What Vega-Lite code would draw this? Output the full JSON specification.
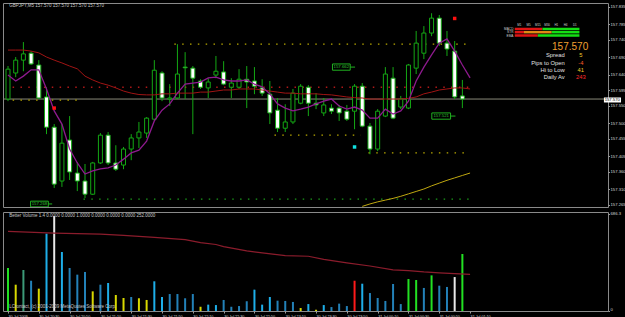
{
"$schema":"https://vega.github.io/schema/vega-lite/v6.json",
"background":"#000000",
"padding":{"left":2,"top":2,"right":0,"bottom":0},
"spacing":3,
"config":{
 "view":{"stroke":"#8a8a8a","strokeWidth":1},
 "axis":{"labelFont":"Liberation Sans","labelColor":"#d8d8d8","tickColor":"#9a9a9a","tickSize":1.5,"labelPadding":0.5,"domain":false,"grid":false,"labelOverlap":false,"labelFlush":false},
 "text":{"font":"Liberation Sans"}
},
"datasets":{
 "bars":[
{"t":"2009-07-30T20:10:00Z","o":157.570,"h":157.665,"l":157.564,"c":157.656,"v":304,"vc":"g"},
{"t":"2009-07-30T20:15:00Z","o":157.645,"h":157.691,"l":157.633,"c":157.682,"v":186,"vc":"y"},
{"t":"2009-07-30T20:20:00Z","o":157.682,"h":157.734,"l":157.650,"c":157.700,"v":290,"vc":"t"},
{"t":"2009-07-30T20:25:00Z","o":157.702,"h":157.708,"l":157.668,"c":157.671,"v":214,"vc":"n"},
{"t":"2009-07-30T20:30:00Z","o":157.668,"h":157.682,"l":157.570,"c":157.573,"v":158,"vc":"y"},
{"t":"2009-07-30T20:35:00Z","o":157.576,"h":157.604,"l":157.469,"c":157.489,"v":547,"vc":"c"},
{"t":"2009-07-30T20:40:00Z","o":157.489,"h":157.498,"l":157.314,"c":157.325,"v":672,"vc":"w"},
{"t":"2009-07-30T20:45:00Z","o":157.334,"h":157.498,"l":157.317,"c":157.443,"v":417,"vc":"c"},
{"t":"2009-07-30T20:50:00Z","o":157.452,"h":157.521,"l":157.337,"c":157.360,"v":304,"vc":"n"},
{"t":"2009-07-30T20:55:00Z","o":157.357,"h":157.389,"l":157.305,"c":157.334,"v":257,"vc":"n"},
{"t":"2009-07-30T21:00:00Z","o":157.334,"h":157.383,"l":157.285,"c":157.296,"v":276,"vc":"n"},
{"t":"2009-07-30T21:05:00Z","o":157.296,"h":157.389,"l":157.294,"c":157.386,"v":139,"vc":"y"},
{"t":"2009-07-30T21:10:00Z","o":157.386,"h":157.472,"l":157.383,"c":157.466,"v":186,"vc":"n"},
{"t":"2009-07-30T21:15:00Z","o":157.466,"h":157.475,"l":157.380,"c":157.386,"v":198,"vc":"c"},
{"t":"2009-07-30T21:20:00Z","o":157.386,"h":157.437,"l":157.363,"c":157.368,"v":113,"vc":"y"},
{"t":"2009-07-30T21:25:00Z","o":157.380,"h":157.432,"l":157.368,"c":157.426,"v":92,"vc":"y"},
{"t":"2009-07-30T21:30:00Z","o":157.426,"h":157.469,"l":157.394,"c":157.458,"v":99,"vc":"n"},
{"t":"2009-07-30T21:35:00Z","o":157.458,"h":157.504,"l":157.429,"c":157.475,"v":90,"vc":"y"},
{"t":"2009-07-30T21:40:00Z","o":157.472,"h":157.518,"l":157.458,"c":157.515,"v":78,"vc":"y"},
{"t":"2009-07-30T21:45:00Z","o":157.512,"h":157.682,"l":157.507,"c":157.653,"v":210,"vc":"c"},
{"t":"2009-07-30T21:50:00Z","o":157.645,"h":157.650,"l":157.564,"c":157.573,"v":99,"vc":"c"},
{"t":"2009-07-30T21:55:00Z","o":157.570,"h":157.613,"l":157.550,"c":157.573,"v":120,"vc":"n"},
{"t":"2009-07-30T22:00:00Z","o":157.573,"h":157.728,"l":157.570,"c":157.642,"v":120,"vc":"n"},
{"t":"2009-07-30T22:05:00Z","o":157.662,"h":157.705,"l":157.570,"c":157.660,"v":90,"vc":"n"},
{"t":"2009-07-30T22:10:00Z","o":157.659,"h":157.665,"l":157.469,"c":157.630,"v":120,"vc":"n"},
{"t":"2009-07-30T22:15:00Z","o":157.622,"h":157.627,"l":157.599,"c":157.604,"v":30,"vc":"y"},
{"t":"2009-07-30T22:20:00Z","o":157.602,"h":157.630,"l":157.573,"c":157.619,"v":45,"vc":"c"},
{"t":"2009-07-30T22:25:00Z","o":157.639,"h":157.694,"l":157.630,"c":157.650,"v":42,"vc":"c"},
{"t":"2009-07-30T22:30:00Z","o":157.648,"h":157.679,"l":157.610,"c":157.613,"v":78,"vc":"n"},
{"t":"2009-07-30T22:35:00Z","o":157.604,"h":157.630,"l":157.573,"c":157.616,"v":30,"vc":"n"},
{"t":"2009-07-30T22:40:00Z","o":157.604,"h":157.656,"l":157.599,"c":157.627,"v":35,"vc":"n"},
{"t":"2009-07-30T22:45:00Z","o":157.627,"h":157.665,"l":157.544,"c":157.619,"v":69,"vc":"n"},
{"t":"2009-07-30T22:50:00Z","o":157.622,"h":157.662,"l":157.584,"c":157.607,"v":151,"vc":"c"},
{"t":"2009-07-30T22:55:00Z","o":157.602,"h":157.627,"l":157.579,"c":157.587,"v":45,"vc":"c"},
{"t":"2009-07-30T23:00:00Z","o":157.584,"h":157.622,"l":157.498,"c":157.530,"v":99,"vc":"c"},
{"t":"2009-07-30T23:05:00Z","o":157.538,"h":157.573,"l":157.475,"c":157.486,"v":73,"vc":"n"},
{"t":"2009-07-30T23:10:00Z","o":157.486,"h":157.555,"l":157.475,"c":157.504,"v":71,"vc":"n"},
{"t":"2009-07-30T23:15:00Z","o":157.504,"h":157.599,"l":157.498,"c":157.587,"v":64,"vc":"n"},
{"t":"2009-07-30T23:20:00Z","o":157.558,"h":157.613,"l":157.555,"c":157.607,"v":21,"vc":"y"},
{"t":"2009-07-30T23:25:00Z","o":157.604,"h":157.610,"l":157.521,"c":157.558,"v":49,"vc":"c"},
{"t":"2009-07-30T23:30:00Z","o":157.558,"h":157.587,"l":157.541,"c":157.553,"v":9,"vc":"y"},
{"t":"2009-07-30T23:35:00Z","o":157.530,"h":157.573,"l":157.521,"c":157.553,"v":42,"vc":"c"},
{"t":"2009-07-30T23:40:00Z","o":157.544,"h":157.555,"l":157.527,"c":157.535,"v":28,"vc":"n"},
{"t":"2009-07-30T23:45:00Z","o":157.544,"h":157.553,"l":157.507,"c":157.530,"v":52,"vc":"n"},
{"t":"2009-07-30T23:50:00Z","o":157.535,"h":157.553,"l":157.507,"c":157.512,"v":35,"vc":"n"},
{"t":"2009-07-30T23:55:00Z","o":157.535,"h":157.613,"l":157.483,"c":157.607,"v":214,"vc":"r"},
{"t":"2009-07-31T00:00:00Z","o":157.607,"h":157.616,"l":157.489,"c":157.492,"v":193,"vc":"c"},
{"t":"2009-07-31T00:05:00Z","o":157.492,"h":157.501,"l":157.411,"c":157.426,"v":127,"vc":"n"},
{"t":"2009-07-31T00:10:00Z","o":157.426,"h":157.541,"l":157.420,"c":157.535,"v":92,"vc":"n"},
{"t":"2009-07-31T00:15:00Z","o":157.521,"h":157.662,"l":157.518,"c":157.642,"v":71,"vc":"n"},
{"t":"2009-07-31T00:20:00Z","o":157.630,"h":157.662,"l":157.512,"c":157.515,"v":191,"vc":"n"},
{"t":"2009-07-31T00:25:00Z","o":157.547,"h":157.579,"l":157.541,"c":157.570,"v":49,"vc":"n"},
{"t":"2009-07-31T00:30:00Z","o":157.544,"h":157.671,"l":157.541,"c":157.668,"v":226,"vc":"g"},
{"t":"2009-07-31T00:35:00Z","o":157.659,"h":157.766,"l":157.642,"c":157.731,"v":219,"vc":"g"},
{"t":"2009-07-31T00:40:00Z","o":157.702,"h":157.780,"l":157.685,"c":157.760,"v":163,"vc":"n"},
{"t":"2009-07-31T00:45:00Z","o":157.760,"h":157.817,"l":157.751,"c":157.803,"v":252,"vc":"g"},
{"t":"2009-07-31T00:50:00Z","o":157.803,"h":157.812,"l":157.723,"c":157.731,"v":179,"vc":"n"},
{"t":"2009-07-31T00:55:00Z","o":157.731,"h":157.766,"l":157.694,"c":157.714,"v":170,"vc":"n"},
{"t":"2009-07-31T01:00:00Z","o":157.708,"h":157.737,"l":157.570,"c":157.576,"v":240,"vc":"w"},
{"t":"2009-07-31T01:05:00Z","o":157.579,"h":157.625,"l":157.544,"c":157.570,"v":403,"vc":"g"}
 ],
 "ma":[
{"t":"2009-07-30T20:10:00Z","m1":157.639,"m2":157.711},
{"t":"2009-07-30T20:15:00Z","m1":157.622,"m2":157.711},
{"t":"2009-07-30T20:20:00Z","m1":157.636,"m2":157.711},
{"t":"2009-07-30T20:25:00Z","m1":157.654,"m2":157.708},
{"t":"2009-07-30T20:30:00Z","m1":157.654,"m2":157.703},
{"t":"2009-07-30T20:35:00Z","m1":157.599,"m2":157.691},
{"t":"2009-07-30T20:40:00Z","m1":157.536,"m2":157.682},
{"t":"2009-07-30T20:45:00Z","m1":157.498,"m2":157.674},
{"t":"2009-07-30T20:50:00Z","m1":157.426,"m2":157.665},
{"t":"2009-07-30T20:55:00Z","m1":157.386,"m2":157.657},
{"t":"2009-07-30T21:00:00Z","m1":157.354,"m2":157.636},
{"t":"2009-07-30T21:05:00Z","m1":157.363,"m2":157.625},
{"t":"2009-07-30T21:10:00Z","m1":157.369,"m2":157.616},
{"t":"2009-07-30T21:15:00Z","m1":157.372,"m2":157.610},
{"t":"2009-07-30T21:20:00Z","m1":157.380,"m2":157.602},
{"t":"2009-07-30T21:25:00Z","m1":157.397,"m2":157.593},
{"t":"2009-07-30T21:30:00Z","m1":157.415,"m2":157.587},
{"t":"2009-07-30T21:35:00Z","m1":157.423,"m2":157.583},
{"t":"2009-07-30T21:40:00Z","m1":157.449,"m2":157.582},
{"t":"2009-07-30T21:45:00Z","m1":157.507,"m2":157.582},
{"t":"2009-07-30T21:50:00Z","m1":157.538,"m2":157.585},
{"t":"2009-07-30T21:55:00Z","m1":157.556,"m2":157.585},
{"t":"2009-07-30T22:00:00Z","m1":157.587,"m2":157.587},
{"t":"2009-07-30T22:05:00Z","m1":157.613,"m2":157.587},
{"t":"2009-07-30T22:10:00Z","m1":157.616,"m2":157.587},
{"t":"2009-07-30T22:15:00Z","m1":157.619,"m2":157.590},
{"t":"2009-07-30T22:20:00Z","m1":157.631,"m2":157.590},
{"t":"2009-07-30T22:25:00Z","m1":157.633,"m2":157.593},
{"t":"2009-07-30T22:30:00Z","m1":157.625,"m2":157.596},
{"t":"2009-07-30T22:35:00Z","m1":157.622,"m2":157.596},
{"t":"2009-07-30T22:40:00Z","m1":157.622,"m2":157.599},
{"t":"2009-07-30T22:45:00Z","m1":157.625,"m2":157.599},
{"t":"2009-07-30T22:50:00Z","m1":157.613,"m2":157.599},
{"t":"2009-07-30T22:55:00Z","m1":157.605,"m2":157.596},
{"t":"2009-07-30T23:00:00Z","m1":157.585,"m2":157.593},
{"t":"2009-07-30T23:05:00Z","m1":157.556,"m2":157.590},
{"t":"2009-07-30T23:10:00Z","m1":157.544,"m2":157.587},
{"t":"2009-07-30T23:15:00Z","m1":157.536,"m2":157.587},
{"t":"2009-07-30T23:20:00Z","m1":157.541,"m2":157.585},
{"t":"2009-07-30T23:25:00Z","m1":157.547,"m2":157.585},
{"t":"2009-07-30T23:30:00Z","m1":157.556,"m2":157.585},
{"t":"2009-07-30T23:35:00Z","m1":157.564,"m2":157.583},
{"t":"2009-07-30T23:40:00Z","m1":157.570,"m2":157.582},
{"t":"2009-07-30T23:45:00Z","m1":157.550,"m2":157.579},
{"t":"2009-07-30T23:50:00Z","m1":157.541,"m2":157.576},
{"t":"2009-07-30T23:55:00Z","m1":157.547,"m2":157.574},
{"t":"2009-07-31T00:00:00Z","m1":157.538,"m2":157.573},
{"t":"2009-07-31T00:05:00Z","m1":157.515,"m2":157.570},
{"t":"2009-07-31T00:10:00Z","m1":157.515,"m2":157.570},
{"t":"2009-07-31T00:15:00Z","m1":157.541,"m2":157.570},
{"t":"2009-07-31T00:20:00Z","m1":157.527,"m2":157.570},
{"t":"2009-07-31T00:25:00Z","m1":157.536,"m2":157.570},
{"t":"2009-07-31T00:30:00Z","m1":157.564,"m2":157.572},
{"t":"2009-07-31T00:35:00Z","m1":157.622,"m2":157.576},
{"t":"2009-07-31T00:40:00Z","m1":157.662,"m2":157.585},
{"t":"2009-07-31T00:45:00Z","m1":157.697,"m2":157.590},
{"t":"2009-07-31T00:50:00Z","m1":157.731,"m2":157.596},
{"t":"2009-07-31T00:55:00Z","m1":157.743,"m2":157.599},
{"t":"2009-07-31T01:00:00Z","m1":157.708,"m2":157.602},
{"t":"2009-07-31T01:05:00Z","m1":157.668,"m2":157.602},
{"t":"2009-07-31T01:10:00Z","m1":157.631,"m2":157.599}
 ],
 "ma3":[
{"t":"2009-07-31T00:00:00Z","p":157.261},
{"t":"2009-07-31T00:05:00Z","p":157.268},
{"t":"2009-07-31T00:10:00Z","p":157.274},
{"t":"2009-07-31T00:15:00Z","p":157.279},
{"t":"2009-07-31T00:20:00Z","p":157.284},
{"t":"2009-07-31T00:25:00Z","p":157.290},
{"t":"2009-07-31T00:30:00Z","p":157.297},
{"t":"2009-07-31T00:35:00Z","p":157.304},
{"t":"2009-07-31T00:40:00Z","p":157.311},
{"t":"2009-07-31T00:45:00Z","p":157.320},
{"t":"2009-07-31T00:50:00Z","p":157.328},
{"t":"2009-07-31T00:55:00Z","p":157.336},
{"t":"2009-07-31T01:00:00Z","p":157.343},
{"t":"2009-07-31T01:05:00Z","p":157.350},
{"t":"2009-07-31T01:10:00Z","p":157.357}
 ],
 "vma":[
{"t":"2009-07-30T20:10:00Z","v":563},
{"t":"2009-07-30T20:40:00Z","v":551},
{"t":"2009-07-30T21:10:00Z","v":544},
{"t":"2009-07-30T21:25:00Z","v":535},
{"t":"2009-07-30T21:45:00Z","v":521},
{"t":"2009-07-30T22:05:00Z","v":504},
{"t":"2009-07-30T22:15:00Z","v":483},
{"t":"2009-07-30T22:25:00Z","v":470},
{"t":"2009-07-30T22:30:00Z","v":455},
{"t":"2009-07-30T22:45:00Z","v":425},
{"t":"2009-07-30T23:10:00Z","v":391},
{"t":"2009-07-30T23:25:00Z","v":387},
{"t":"2009-07-30T23:35:00Z","v":365},
{"t":"2009-07-30T23:50:00Z","v":340},
{"t":"2009-07-31T00:05:00Z","v":318},
{"t":"2009-07-31T00:20:00Z","v":291},
{"t":"2009-07-31T00:30:00Z","v":286},
{"t":"2009-07-31T00:40:00Z","v":276},
{"t":"2009-07-31T00:50:00Z","v":269},
{"t":"2009-07-31T01:00:00Z","v":264},
{"t":"2009-07-31T01:10:00Z","v":259}
 ],
 "levels":[
{"t":"2009-07-30T20:13:00Z","t2":"2009-07-31T01:10:00Z","p":157.604,"k":"r"},
{"t":"2009-07-30T20:13:00Z","t2":"2009-07-30T20:55:00Z","p":157.567,"k":"y"},
{"t":"2009-07-30T21:58:00Z","t2":"2009-07-31T01:10:00Z","p":157.728,"k":"y"},
{"t":"2009-07-30T23:03:00Z","t2":"2009-07-30T23:59:00Z","p":157.466,"k":"y"},
{"t":"2009-07-31T00:04:00Z","t2":"2009-07-31T01:10:00Z","p":157.415,"k":"y"},
{"t":"2009-07-30T20:59:00Z","t2":"2009-07-31T01:10:00Z","p":157.282,"k":"g"}
 ],
 "tags":[
{"t":"2009-07-30T20:24:40Z","t2":"2009-07-30T20:36:10Z","tl":"2009-07-30T20:38:40Z","tc":"2009-07-30T20:30:25Z","p":157.276,"p2":157.2595,"pm":157.268,"s":"157.268"},
{"t":"2009-07-30T23:40:40Z","t2":"2009-07-30T23:52:10Z","tl":"2009-07-30T23:55:20Z","tc":"2009-07-30T23:46:25Z","p":157.671,"p2":157.653,"pm":157.662,"s":"157.662"},
{"t":"2009-07-31T00:45:10Z","t2":"2009-07-31T00:57:20Z","tl":"2009-07-31T01:00:30Z","tc":"2009-07-31T00:51:15Z","p":157.530,"p2":157.512,"pm":157.521,"s":"157.521"}
 ],
 "cells":[
{"t":"2009-07-31T01:39:00Z","t2":"2009-07-31T01:57:00Z","p":157.7754,"p2":157.7684,"k":"r"},
{"t":"2009-07-31T01:57:00Z","t2":"2009-07-31T02:21:00Z","p":157.7754,"p2":157.7684,"k":"g"},
{"t":"2009-07-31T01:39:00Z","t2":"2009-07-31T01:45:00Z","p":157.7659,"p2":157.7589,"k":"r"},
{"t":"2009-07-31T01:45:00Z","t2":"2009-07-31T02:03:00Z","p":157.7659,"p2":157.7589,"k":"o"},
{"t":"2009-07-31T02:03:00Z","t2":"2009-07-31T02:21:00Z","p":157.7659,"p2":157.7589,"k":"g"},
{"t":"2009-07-31T01:39:00Z","t2":"2009-07-31T01:54:00Z","p":157.7564,"p2":157.7494,"k":"r"},
{"t":"2009-07-31T01:54:00Z","t2":"2009-07-31T02:21:00Z","p":157.7564,"p2":157.7494,"k":"g"}
 ]
},
"vconcat":[
{
 "width":605,"height":204,
 "resolve":{"scale":{"color":"independent"}},
 "layer":[
  {"data":{"values":[{"p":157.570}]},
   "mark":{"type":"rule","color":"#8a8a78","strokeWidth":1},
   "encoding":{"y":{"field":"p","type":"quantitative","scale":{"domain":[157.2592,157.8465],"zero":false,"nice":false},
     "axis":{"orient":"right","tickCount":30,"values":[157.265,157.31,157.36,157.405,157.455,157.5,157.55,157.595,157.64,157.69,157.74,157.785,157.835],"format":".3f","labelFontSize":4.2,"title":null}}}},
  {"data":{"name":"levels"},
   "mark":{"type":"rule","strokeWidth":1.3,"strokeDash":[1.5,6.33],"clip":true},
   "encoding":{
    "x":{"field":"t","type":"temporal","scale":{"type":"utc","domain":[{"year":2009,"month":7,"date":30,"hours":20,"minutes":10,"utc":true},{"year":2009,"month":7,"date":31,"hours":2,"minutes":36,"seconds":18,"utc":true}]},"axis":null},
    "x2":{"field":"t2"},
    "y":{"field":"p","type":"quantitative","scale":{"domain":[157.2592,157.8465],"zero":false,"nice":false}},
    "color":{"field":"k","type":"nominal","scale":{"domain":["r","y","g"],"range":["#b01818","#b8a800","#1a9a1a"]},"legend":null}}},
  {"data":{"name":"bars"},
   "mark":{"type":"rule","color":"#14a814","strokeWidth":1,"clip":true},
   "encoding":{
    "x":{"field":"t","type":"temporal","scale":{"type":"utc","domain":[{"year":2009,"month":7,"date":30,"hours":20,"minutes":10,"utc":true},{"year":2009,"month":7,"date":31,"hours":2,"minutes":36,"seconds":18,"utc":true}]},"axis":null},
    "y":{"field":"l","type":"quantitative","scale":{"domain":[157.2592,157.8465],"zero":false,"nice":false}},
    "y2":{"field":"h"}}},
  {"data":{"name":"bars"},
   "mark":{"type":"bar","size":4,"stroke":"#14a814","strokeWidth":1,"clip":true},
   "encoding":{
    "x":{"field":"t","type":"temporal","scale":{"type":"utc","domain":[{"year":2009,"month":7,"date":30,"hours":20,"minutes":10,"utc":true},{"year":2009,"month":7,"date":31,"hours":2,"minutes":36,"seconds":18,"utc":true}]},"axis":null},
    "y":{"field":"o","type":"quantitative","scale":{"domain":[157.2592,157.8465],"zero":false,"nice":false}},
    "y2":{"field":"c"},
    "fill":{"condition":{"test":"datum.c < datum.o","value":"#ffffff"},"value":"#000000"}}},
  {"data":{"name":"ma3"},
   "mark":{"type":"line","color":"#c0a810","strokeWidth":1,"clip":true},
   "encoding":{
    "x":{"field":"t","type":"temporal","scale":{"type":"utc","domain":[{"year":2009,"month":7,"date":30,"hours":20,"minutes":10,"utc":true},{"year":2009,"month":7,"date":31,"hours":2,"minutes":36,"seconds":18,"utc":true}]},"axis":null},
    "y":{"field":"p","type":"quantitative","scale":{"domain":[157.2592,157.8465],"zero":false,"nice":false}}}},
  {"data":{"name":"ma"},
   "mark":{"type":"line","color":"#a01414","strokeWidth":1,"clip":true},
   "encoding":{
    "x":{"field":"t","type":"temporal","scale":{"type":"utc","domain":[{"year":2009,"month":7,"date":30,"hours":20,"minutes":10,"utc":true},{"year":2009,"month":7,"date":31,"hours":2,"minutes":36,"seconds":18,"utc":true}]},"axis":null},
    "y":{"field":"m2","type":"quantitative","scale":{"domain":[157.2592,157.8465],"zero":false,"nice":false}}}},
  {"data":{"name":"ma"},
   "mark":{"type":"line","color":"#8e1a8e","strokeWidth":1.3,"clip":true},
   "encoding":{
    "x":{"field":"t","type":"temporal","scale":{"type":"utc","domain":[{"year":2009,"month":7,"date":30,"hours":20,"minutes":10,"utc":true},{"year":2009,"month":7,"date":31,"hours":2,"minutes":36,"seconds":18,"utc":true}]},"axis":null},
    "y":{"field":"m1","type":"quantitative","scale":{"domain":[157.2592,157.8465],"zero":false,"nice":false}}}},
  {"data":{"values":[{"t":"2009-07-30T20:40:00Z","p":157.544,"k":"r"},{"t":"2009-07-31T01:00:00Z","p":157.802,"k":"r"},{"t":"2009-07-30T23:55:00Z","p":157.432,"k":"c"}]},
   "mark":{"type":"point","shape":"square","filled":true,"size":12,"opacity":1},
   "encoding":{
    "x":{"field":"t","type":"temporal","scale":{"type":"utc","domain":[{"year":2009,"month":7,"date":30,"hours":20,"minutes":10,"utc":true},{"year":2009,"month":7,"date":31,"hours":2,"minutes":36,"seconds":18,"utc":true}]},"axis":null},
    "y":{"field":"p","type":"quantitative","scale":{"domain":[157.2592,157.8465],"zero":false,"nice":false}},
    "color":{"field":"k","type":"nominal","scale":{"domain":["r","c"],"range":["#ff1010","#10e0e0"]},"legend":null}}},
  {"data":{"name":"tags"},
   "mark":{"type":"rect","fill":"#000000","stroke":"#20b020","strokeWidth":1,"clip":true},
   "encoding":{
    "x":{"field":"t","type":"temporal","scale":{"type":"utc","domain":[{"year":2009,"month":7,"date":30,"hours":20,"minutes":10,"utc":true},{"year":2009,"month":7,"date":31,"hours":2,"minutes":36,"seconds":18,"utc":true}]},"axis":null},
    "x2":{"field":"t2"},
    "y":{"field":"p","type":"quantitative","scale":{"domain":[157.2592,157.8465],"zero":false,"nice":false}},
    "y2":{"field":"p2"}}},
  {"data":{"name":"tags"},
   "mark":{"type":"rule","color":"#20b020","strokeWidth":1},
   "encoding":{
    "x":{"field":"t2","type":"temporal","scale":{"type":"utc","domain":[{"year":2009,"month":7,"date":30,"hours":20,"minutes":10,"utc":true},{"year":2009,"month":7,"date":31,"hours":2,"minutes":36,"seconds":18,"utc":true}]},"axis":null},
    "x2":{"field":"tl"},
    "y":{"field":"pm","type":"quantitative","scale":{"domain":[157.2592,157.8465],"zero":false,"nice":false}}}},
  {"data":{"name":"tags"},
   "mark":{"type":"text","color":"#30c030","fontSize":4.3,"align":"center","baseline":"middle"},
   "encoding":{
    "x":{"field":"tc","type":"temporal","scale":{"type":"utc","domain":[{"year":2009,"month":7,"date":30,"hours":20,"minutes":10,"utc":true},{"year":2009,"month":7,"date":31,"hours":2,"minutes":36,"seconds":18,"utc":true}]},"axis":null},
    "y":{"field":"pm","type":"quantitative","scale":{"domain":[157.2592,157.8465],"zero":false,"nice":false}},
    "text":{"field":"s"}}},
  {"data":{"values":[{"t":"2009-07-30T20:10:50Z","p":157.838,"s":"GBPJPY,M5  157.570 157.570 157.570 157.570"}]},
   "mark":{"type":"text","color":"#c8c8c8","fontSize":4.5,"align":"left","baseline":"middle"},
   "encoding":{
    "x":{"field":"t","type":"temporal","scale":{"type":"utc","domain":[{"year":2009,"month":7,"date":30,"hours":20,"minutes":10,"utc":true},{"year":2009,"month":7,"date":31,"hours":2,"minutes":36,"seconds":18,"utc":true}]},"axis":null},
    "y":{"field":"p","type":"quantitative","scale":{"domain":[157.2592,157.8465],"zero":false,"nice":false}},
    "text":{"field":"s"}}},
  {"data":{"name":"cells"},
   "mark":{"type":"rect"},
   "encoding":{
    "x":{"field":"t","type":"temporal","scale":{"type":"utc","domain":[{"year":2009,"month":7,"date":30,"hours":20,"minutes":10,"utc":true},{"year":2009,"month":7,"date":31,"hours":2,"minutes":36,"seconds":18,"utc":true}]},"axis":null},
    "x2":{"field":"t2"},
    "y":{"field":"p","type":"quantitative","scale":{"domain":[157.2592,157.8465],"zero":false,"nice":false}},
    "y2":{"field":"p2"},
    "color":{"field":"k","type":"nominal","scale":{"domain":["r","o","g"],"range":["#e01414","#e08a14","#14e014"]},"legend":null}}},
  {"data":{"values":[{"t":"2009-07-31T01:38:10Z","p":157.7719,"s":"MACD"},{"t":"2009-07-31T01:38:10Z","p":157.7624,"s":"STR"},{"t":"2009-07-31T01:38:10Z","p":157.7529,"s":"EMA"}]},
   "mark":{"type":"text","color":"#d0d0d0","fontSize":3.2,"align":"right","baseline":"middle"},
   "encoding":{
    "x":{"field":"t","type":"temporal","scale":{"type":"utc","domain":[{"year":2009,"month":7,"date":30,"hours":20,"minutes":10,"utc":true},{"year":2009,"month":7,"date":31,"hours":2,"minutes":36,"seconds":18,"utc":true}]},"axis":null},
    "y":{"field":"p","type":"quantitative","scale":{"domain":[157.2592,157.8465],"zero":false,"nice":false}},
    "text":{"field":"s"}}},
  {"data":{"values":[{"t":"2009-07-31T01:42:00Z","p":157.7768,"s":"M1"},{"t":"2009-07-31T01:48:00Z","p":157.7768,"s":"M5"},{"t":"2009-07-31T01:54:00Z","p":157.7768,"s":"M15"},{"t":"2009-07-31T02:00:00Z","p":157.7768,"s":"M30"},{"t":"2009-07-31T02:06:00Z","p":157.7768,"s":"H1"},{"t":"2009-07-31T02:12:00Z","p":157.7768,"s":"H4"},{"t":"2009-07-31T02:18:00Z","p":157.7768,"s":"D1"}]},
   "mark":{"type":"text","color":"#d0d0d0","fontSize":3,"align":"center","baseline":"bottom"},
   "encoding":{
    "x":{"field":"t","type":"temporal","scale":{"type":"utc","domain":[{"year":2009,"month":7,"date":30,"hours":20,"minutes":10,"utc":true},{"year":2009,"month":7,"date":31,"hours":2,"minutes":36,"seconds":18,"utc":true}]},"axis":null},
    "y":{"field":"p","type":"quantitative","scale":{"domain":[157.2592,157.8465],"zero":false,"nice":false}},
    "text":{"field":"s"}}},
  {"data":{"values":[{"t":"2009-07-31T02:26:42Z","p":157.7199,"s":"157.570"}]},
   "mark":{"type":"text","color":"#f0a030","fontSize":10,"align":"right","baseline":"middle"},
   "encoding":{
    "x":{"field":"t","type":"temporal","scale":{"type":"utc","domain":[{"year":2009,"month":7,"date":30,"hours":20,"minutes":10,"utc":true},{"year":2009,"month":7,"date":31,"hours":2,"minutes":36,"seconds":18,"utc":true}]},"axis":null},
    "y":{"field":"p","type":"quantitative","scale":{"domain":[157.2592,157.8465],"zero":false,"nice":false}},
    "text":{"field":"s"}}},
  {"data":{"values":[{"t":"2009-07-31T02:11:24Z","p":157.6954,"s":"Spread"},{"t":"2009-07-31T02:11:24Z","p":157.6752,"s":"Pips to Open"},{"t":"2009-07-31T02:11:24Z","p":157.6522,"s":"Hi to Low"},{"t":"2009-07-31T02:11:24Z","p":157.6321,"s":"Daily Av"}]},
   "mark":{"type":"text","color":"#e0e0e0","fontSize":5.8,"align":"right","baseline":"middle"},
   "encoding":{
    "x":{"field":"t","type":"temporal","scale":{"type":"utc","domain":[{"year":2009,"month":7,"date":30,"hours":20,"minutes":10,"utc":true},{"year":2009,"month":7,"date":31,"hours":2,"minutes":36,"seconds":18,"utc":true}]},"axis":null},
    "y":{"field":"p","type":"quantitative","scale":{"domain":[157.2592,157.8465],"zero":false,"nice":false}},
    "text":{"field":"s"}}},
  {"data":{"values":[{"t":"2009-07-31T02:21:54Z","p":157.6954,"s":"5","k":"a"},{"t":"2009-07-31T02:21:54Z","p":157.6752,"s":"-4","k":"b"},{"t":"2009-07-31T02:21:54Z","p":157.6522,"s":"41","k":"a"},{"t":"2009-07-31T02:21:54Z","p":157.6321,"s":"243","k":"c"}]},
   "mark":{"type":"text","fontSize":5.8,"align":"center","baseline":"middle"},
   "encoding":{
    "x":{"field":"t","type":"temporal","scale":{"type":"utc","domain":[{"year":2009,"month":7,"date":30,"hours":20,"minutes":10,"utc":true},{"year":2009,"month":7,"date":31,"hours":2,"minutes":36,"seconds":18,"utc":true}]},"axis":null},
    "y":{"field":"p","type":"quantitative","scale":{"domain":[157.2592,157.8465],"zero":false,"nice":false}},
    "text":{"field":"s"},
    "color":{"field":"k","type":"nominal","scale":{"domain":["a","b","c"],"range":["#f0c828","#ff5a28","#ff2a2a"]},"legend":null}}},
  {"data":{"values":[{"t":"2009-07-31T02:36:54Z","t2":"2009-07-31T02:48:00Z","p":157.5745,"p2":157.5601}]},
   "mark":{"type":"rect","fill":"#ffffff"},
   "encoding":{
    "x":{"field":"t","type":"temporal","scale":{"type":"utc","domain":[{"year":2009,"month":7,"date":30,"hours":20,"minutes":10,"utc":true},{"year":2009,"month":7,"date":31,"hours":2,"minutes":36,"seconds":18,"utc":true}]},"axis":null},
    "x2":{"field":"t2"},
    "y":{"field":"p","type":"quantitative","scale":{"domain":[157.2592,157.8465],"zero":false,"nice":false}},
    "y2":{"field":"p2"}}},
  {"data":{"values":[{"t":"2009-07-31T02:37:24Z","p":157.5673,"s":"157.570"}]},
   "mark":{"type":"text","color":"#000000","fontSize":4.2,"align":"left","baseline":"middle"},
   "encoding":{
    "x":{"field":"t","type":"temporal","scale":{"type":"utc","domain":[{"year":2009,"month":7,"date":30,"hours":20,"minutes":10,"utc":true},{"year":2009,"month":7,"date":31,"hours":2,"minutes":36,"seconds":18,"utc":true}]},"axis":null},
    "y":{"field":"p","type":"quantitative","scale":{"domain":[157.2592,157.8465],"zero":false,"nice":false}},
    "text":{"field":"s"}}}
 ]
},
{
 "width":605,"height":99,
 "layer":[
  {"data":{"name":"bars"},
   "mark":{"type":"bar","size":2,"clip":true},
   "encoding":{
    "x":{"field":"t","type":"temporal","scale":{"type":"utc","domain":[{"year":2009,"month":7,"date":30,"hours":20,"minutes":10,"utc":true},{"year":2009,"month":7,"date":31,"hours":2,"minutes":36,"seconds":18,"utc":true}]},
      "axis":{"orient":"bottom","title":null,"tickCount":30,"labelFontSize":3.7,"labelAlign":"left","labelBaseline":"top","labelPadding":1,"tickSize":2,
       "values":[
        {"year":2009,"month":7,"date":30,"hours":20,"minutes":10,"utc":true},
        {"year":2009,"month":7,"date":30,"hours":20,"minutes":30,"utc":true},
        {"year":2009,"month":7,"date":30,"hours":20,"minutes":50,"utc":true},
        {"year":2009,"month":7,"date":30,"hours":21,"minutes":10,"utc":true},
        {"year":2009,"month":7,"date":30,"hours":21,"minutes":30,"utc":true},
        {"year":2009,"month":7,"date":30,"hours":21,"minutes":50,"utc":true},
        {"year":2009,"month":7,"date":30,"hours":22,"minutes":10,"utc":true},
        {"year":2009,"month":7,"date":30,"hours":22,"minutes":30,"utc":true},
        {"year":2009,"month":7,"date":30,"hours":22,"minutes":50,"utc":true},
        {"year":2009,"month":7,"date":30,"hours":23,"minutes":10,"utc":true},
        {"year":2009,"month":7,"date":30,"hours":23,"minutes":30,"utc":true},
        {"year":2009,"month":7,"date":30,"hours":23,"minutes":50,"utc":true},
        {"year":2009,"month":7,"date":31,"hours":0,"minutes":10,"utc":true},
        {"year":2009,"month":7,"date":31,"hours":0,"minutes":30,"utc":true},
        {"year":2009,"month":7,"date":31,"hours":0,"minutes":50,"utc":true},
        {"year":2009,"month":7,"date":31,"hours":1,"minutes":10,"utc":true}],
       "labelExpr":"utcFormat(datum.value, '%H:%M') == '20:10' ? '30 Jul 2009' : utcFormat(datum.value, '%d %b %H:%M')"}},
    "y":{"field":"v","type":"quantitative","scale":{"domain":[0,700],"nice":false},
      "axis":{"orient":"right","title":null,"values":[0,686.3],"format":".1~f","labelFontSize":4.2,"labelFlush":true}},
    "color":{"field":"vc","type":"nominal","scale":{"domain":["n","c","y","w","g","r","t"],"range":["#2381b8","#1eaee8","#d8d800","#e8e8e8","#22e022","#ff1a1a","#3c9a78"]},"legend":null}}},
  {"data":{"name":"vma"},
   "mark":{"type":"line","color":"#8b1c2c","strokeWidth":1.2},
   "encoding":{
    "x":{"field":"t","type":"temporal","scale":{"type":"utc","domain":[{"year":2009,"month":7,"date":30,"hours":20,"minutes":10,"utc":true},{"year":2009,"month":7,"date":31,"hours":2,"minutes":36,"seconds":18,"utc":true}]}},
    "y":{"field":"v","type":"quantitative","scale":{"domain":[0,700],"nice":false}}}},
  {"data":{"values":[{"t":"2009-07-30T20:10:50Z","v":675,"s":"Better Volume 1.4 0.0000 0.0000 1.0000 0.0000 0.0000 0.0000 252.0000"},{"t":"2009-07-30T20:10:50Z","v":28,"s":"LCrontact, (c) 2001-2009 MetaQuotes Software Corp."}]},
   "mark":{"type":"text","color":"#c8c8c8","fontSize":4.5,"align":"left","baseline":"middle"},
   "encoding":{
    "x":{"field":"t","type":"temporal","scale":{"type":"utc","domain":[{"year":2009,"month":7,"date":30,"hours":20,"minutes":10,"utc":true},{"year":2009,"month":7,"date":31,"hours":2,"minutes":36,"seconds":18,"utc":true}]}},
    "y":{"field":"v","type":"quantitative","scale":{"domain":[0,700],"nice":false}},
    "text":{"field":"s"}}}
 ]
}
]
}
